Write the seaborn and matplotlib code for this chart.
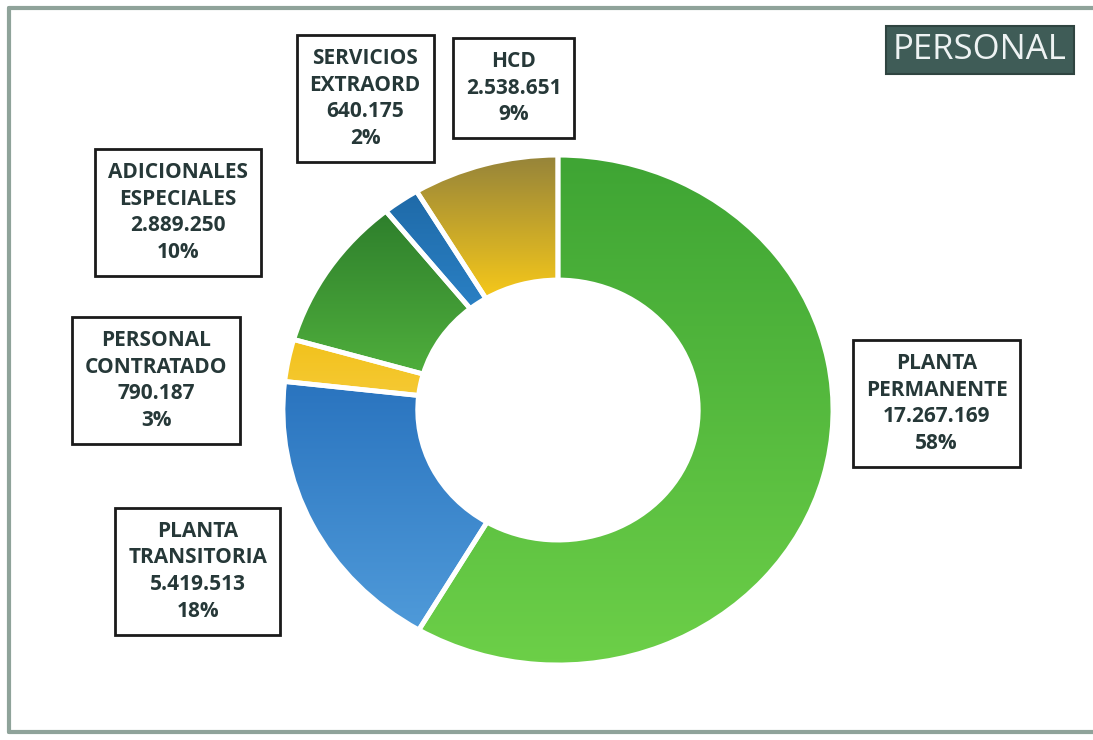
import numpy as np
import matplotlib
matplotlib.use("Agg")
import matplotlib.pyplot as plt
import seaborn as sns
from matplotlib.colors import LinearSegmentedColormap
from matplotlib.lines import Line2D

# data (clockwise from 12 o'clock)
categories = ["PLANTA\nPERMANENTE", "PLANTA\nTRANSITORIA", "PERSONAL\nCONTRATADO",
              "ADICIONALES\nESPECIALES", "SERVICIOS\nEXTRAORD", "HCD"]
values = [17267169, 5419513, 790187, 2889250, 640175, 2538651]
title = "PERSONAL"

# top / bottom colours of the vertical gradient in each slice
top_colors = ["#3fa534", "#2a74bf", "#f2c21c", "#2e7f2c", "#1f6aa8", "#96843a"]
bottom_colors = ["#6ccf48", "#4f9ad9", "#f5c933", "#4fae3c", "#2a80c4", "#f6c81a"]

# label box centres (figure fraction)
label_pos = [(0.857, 0.455), (0.181, 0.228), (0.143, 0.486),
             (0.163, 0.713), (0.334, 0.867), (0.470, 0.881)]

sns.set_theme(style="white")
plt.rcParams["font.family"] = ["Open Sans", "DejaVu Sans"]

fig = plt.figure(figsize=(10.93, 7.40), dpi=100)
ax = fig.add_axes([0.2589, 0.1014, 0.5032, 0.689])

wedges, _ = ax.pie(values, startangle=90, counterclock=False, radius=1.0,
                   wedgeprops=dict(width=0.49, edgecolor="white", linewidth=3.5))

for w, c_top, c_bot in zip(wedges, top_colors, bottom_colors):
    ext = w.get_path().get_extents()
    cmap = LinearSegmentedColormap.from_list("g", [c_bot, c_top])
    grad = np.linspace(1, 0, 64).reshape(-1, 1)
    im = ax.imshow(grad, cmap=cmap, extent=(ext.x0, ext.x1, ext.y0, ext.y1),
                   aspect="auto", zorder=1, interpolation="bilinear")
    im.set_clip_path(w)
    w.set_facecolor("none")
    w.set_zorder(2)

ax.set_xlim(-1, 1)
ax.set_ylim(-1, 1)
ax.set_aspect("auto")
ax.axis("off")

total = sum(values)
for cat, v, (x, y) in zip(categories, values, label_pos):
    txt = f"{cat}\n{v:,}".replace(",", ".") + f"\n{round(100 * v / total)}%"
    fig.text(x, y, txt, ha="center", va="center", fontsize=15, fontweight="bold",
             color="#263838", linespacing=1.35,
             bbox=dict(boxstyle="square,pad=0.62", facecolor="white",
                       edgecolor="#1a1a1a", linewidth=2))

fig.text(0.8966, 0.932, title, ha="center", va="center", fontsize=25,
         color="#eef3f3",
         bbox=dict(boxstyle="square,pad=0.2", facecolor="#3f5c57",
                   edgecolor="#2f4440", linewidth=1.5))

# outer frame
frame_kw = dict(color="#8fa39a", linewidth=3, transform=fig.transFigure)
fig.add_artist(Line2D([0.008, 1.0], [0.989, 0.989], **frame_kw))
fig.add_artist(Line2D([0.008, 0.008], [0.011, 0.989], **frame_kw))
fig.add_artist(Line2D([0.008, 1.0], [0.011, 0.011], **frame_kw))

fig.savefig("out.png", dpi=100)
